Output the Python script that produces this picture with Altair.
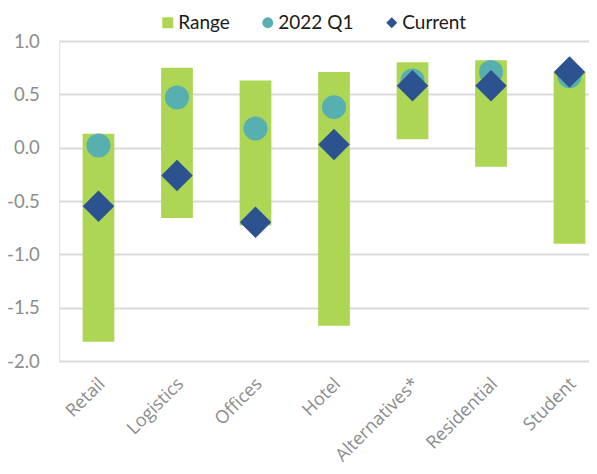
import altair as alt
import pandas as pd

categories = ["Retail", "Logistics", "Offices", "Hotel", "Alternatives*", "Residential", "Student"]
range_low = [-1.82, -0.66, -0.73, -1.67, 0.08, -0.18, -0.90]
range_high = [0.13, 0.75, 0.63, 0.71, 0.80, 0.82, 0.71]
q1_2022 = [0.02, 0.47, 0.18, 0.38, 0.63, 0.71, 0.67]
current = [-0.55, -0.26, -0.70, 0.03, 0.58, 0.58, 0.71]

series_names = ["Range", "2022 Q1", "Current"]
series_colors = ["#acd653", "#57afb0", "#2d5290"]
series_shapes = ["square", "circle", "diamond"]

bars = pd.DataFrame({"category": categories, "low": range_low, "high": range_high, "series": "Range"})
pts_q1 = pd.DataFrame({"category": categories, "value": q1_2022, "series": "2022 Q1"})
pts_cur = pd.DataFrame({"category": categories, "value": current, "series": "Current"})

x_enc = alt.X(
    "category:N",
    sort=categories,
    title=None,
    scale=alt.Scale(range=[0, 549.5], paddingInner=0.596, paddingOuter=0.298),
    axis=alt.Axis(
        labelAngle=-45,
        labelAlign="right",
        labelBaseline="middle",
        labelFont="Open Sans",
        labelFontSize=18,
        labelColor="#8c8c8c",
        labelPadding=20,
        labelOffset=4,
        ticks=False,
        domain=False,
        grid=False,
    ),
)

y_scale = alt.Scale(domain=[-2, 1], nice=False, zero=False)
y_axis = alt.Axis(
    values=[-2, -1.5, -1, -0.5, 0, 0.5, 1],
    format=".1f",
    labelExpr="replace(datum.label, '\u2212', '-')",
    labelFont="Lato",
    labelFontSize=18.5,
    labelColor="#8c8c8c",
    labelPadding=20,
    ticks=False,
    domain=False,
    grid=True,
    gridColor="#d9d9d9",
    gridWidth=1.8,
)

color_enc = alt.Color(
    "series:N",
    scale=alt.Scale(domain=series_names, range=series_colors),
    title=None,
    legend=alt.Legend(
        orient="none",
        direction="horizontal",
        legendX=99,
        legendY=-28,
        labelFont="Lato",
        labelFontSize=19,
        labelColor="#1a1a1a",
        symbolSize=120,
        symbolStrokeWidth=0,
        columnPadding=28,
        labelOffset=1,
    ),
)
shape_enc = alt.Shape(
    "series:N",
    scale=alt.Scale(domain=series_names, range=series_shapes),
    title=None,
)

bar_layer = alt.Chart(bars).mark_bar(opacity=1).encode(
    x=x_enc,
    y=alt.Y("low:Q", scale=y_scale, axis=y_axis, title=None),
    y2="high:Q",
    color=color_enc,
)

q1_layer = alt.Chart(pts_q1).mark_point(filled=True, size=576, opacity=1).encode(
    x=x_enc,
    y=alt.Y("value:Q", scale=y_scale, title=None),
    color=color_enc,
    shape=shape_enc,
)

cur_layer = alt.Chart(pts_cur).mark_point(filled=True, size=990, opacity=1).encode(
    x=x_enc,
    y=alt.Y("value:Q", scale=y_scale, title=None),
    color=color_enc,
    shape=shape_enc,
)

chart = alt.layer(bar_layer, q1_layer, cur_layer).properties(
    width=529.75,
    height=320,
    autosize=alt.AutoSizeParams(type="none"),
    padding={"left": 51.25, "top": 33, "right": 0, "bottom": 105},
).configure_view(stroke=None).configure(background="white")

chart.save("out.html", embed_options={"renderer": "svg", "actions": False})
